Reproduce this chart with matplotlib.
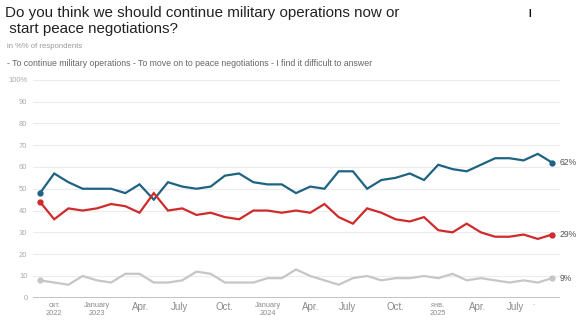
import matplotlib
matplotlib.use("Agg")
import matplotlib.pyplot as plt
import numpy as np

plt.rcParams['font.family'] = ['Liberation Sans', 'DejaVu Sans']

continue_ops = [48, 57, 53, 50, 50, 50, 48, 52, 45, 53, 51, 50, 51, 56, 57, 53, 52, 52, 48,
                51, 50, 58, 58, 50, 54, 55, 57, 54, 61, 59, 58, 61, 64, 64, 63, 66, 62]
peace_talks = [44, 36, 41, 40, 41, 43, 42, 39, 48, 40, 41, 38, 39, 37, 36, 40, 40, 39, 40,
               39, 43, 37, 34, 41, 39, 36, 35, 37, 31, 30, 34, 30, 28, 28, 29, 27, 29]
difficult = [8, 7, 6, 10, 8, 7, 11, 11, 7, 7, 8, 12, 11, 7, 7, 7, 9, 9, 13,
             10, 8, 6, 9, 10, 8, 9, 9, 10, 9, 11, 8, 9, 8, 7, 8, 7, 9]

tick_pos = [1, 4, 7.1, 9.8, 13, 16, 19, 21.6, 25, 28, 30.8, 33.4, 34.7]
tick_labels = ["окт.\n2022", "January\n2023", "Apr.", "July", "Oct.", "January\n2024",
               "Apr.", "July", "Oct.", "янв.\n2025", "Apr.", "July", "·"]
y_ticks = [0, 10, 20, 30, 40, 50, 60, 70, 80, 90, 100]
y_tick_labels = ["0", "10", "20", "30", "40", "50", "60", "70", "80", "90", "100%"]

series = [(continue_ops, "#1e6381"), (peace_talks, "#cf2a2c"), (difficult, "#c6c6c6")]

W, H = 582, 323
fig = plt.figure(figsize=(W / 100, H / 100), dpi=100)
ax = fig.add_axes([33 / W, (H - 297.8) / H, (560 - 33) / W, (297.8 - 79.7) / H])

x = np.arange(len(continue_ops))
for vals, col in series:
    ax.plot(x, vals, color=col, lw=1.6, solid_joinstyle='miter', zorder=3)
    ax.plot([x[0], x[-1]], [vals[0], vals[-1]], 'o', color=col, ms=3.5, zorder=4)
    ax.text(x[-1] + 0.55, vals[-1], f"{vals[-1]}%", color="#555555", fontsize=6.2,
            va='center', ha='left')

ax.set_xlim(-0.49, 36.56)
ax.set_ylim(0, 100)
ax.set_yticks(y_ticks)
ax.set_yticklabels(y_tick_labels)
ax.tick_params(axis='y', length=0, pad=4, labelsize=5.5, labelcolor="#aaaaaa")
ax.yaxis.grid(True, color="#ececec", lw=0.8)
ax.set_axisbelow(True)
ax.axhline(0, color="#b0b0b0", lw=1.8, zorder=2)

ax.set_xticks(tick_pos)
ax.set_xticklabels(tick_labels)
ax.tick_params(axis='x', length=0, pad=3, labelcolor="#8a8a8a")
for lbl in ax.get_xticklabels():
    t = lbl.get_text()
    if "\n" in t:
        lbl.set_fontsize(5.3)
        lbl.set_linespacing(1.3)
    elif t == "·":
        lbl.set_fontsize(5)
    else:
        lbl.set_fontsize(7)

for s in ax.spines.values():
    s.set_visible(False)

fig.text(5 / W, 1 - 13 / H, "Do you think we should continue military operations now or",
         fontsize=10.9, color="#222222", va='center', ha='left')
fig.text(5 / W, 1 - 29 / H, " start peace negotiations?",
         fontsize=10.9, color="#222222", va='center', ha='left')
fig.text(7 / W, 1 - 46 / H, "in %% of respondents", fontsize=5.6, color="#999999",
         va='center', ha='left', fontstretch='condensed')
fig.text(7 / W, 1 - 63 / H,
         "- To continue military operations - To move on to peace negotiations - I find it difficult to answer",
         fontsize=6.35, color="#666666", va='center', ha='left')
fig.text(530 / W, 1 - 14 / H, "I", fontsize=7, fontweight='bold', color="#111111",
         va='center', ha='center')

fig.savefig("out.png", dpi=100, facecolor="white")
